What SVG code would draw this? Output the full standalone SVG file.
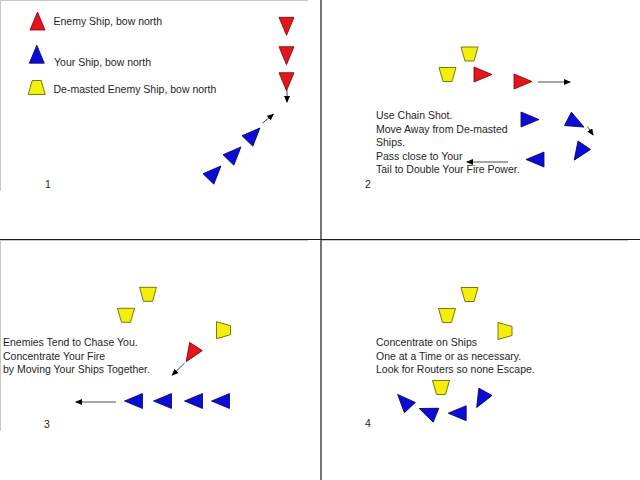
<svg xmlns="http://www.w3.org/2000/svg" xmlns:xlink="http://www.w3.org/1999/xlink" width="640" height="480" viewBox="0 0 640 480">
<style>
.t{font-family:"Liberation Sans",Arial,sans-serif;font-size:10.5px;fill:#1e1e1e}
.red{fill:#e3161e;stroke:#7a0000;stroke-width:0.8}
.blue{fill:#0c0cd4;stroke:#00006e;stroke-width:0.8}
.yel{fill:#f4ef0a;stroke:#6e6a00;stroke-width:0.9}
.arr{stroke:#4a4a4a;stroke-width:1;fill:none;marker-end:url(#ah)}
.frame{stroke:#1a1a1a;stroke-width:1.2}
.edge{stroke:#c8c8c8;stroke-width:1}
</style>
<defs>
<polygon id="ship" points="0,-12 7.5,6 -7.5,6"/>
<polygon id="hulk" points="-4.5,-7 4.5,-7 8.5,7 -8.5,7"/>
<marker id="ah" markerUnits="userSpaceOnUse" markerWidth="7" markerHeight="6" refX="6" refY="3" orient="auto">
<path d="M0,0 L7,3 L0,6 z" fill="#000"/>
</marker>
</defs>
<rect width="640" height="480" fill="#fff"/>
<g id="frames">
<line class="edge" x1="0.5" y1="0.5" x2="308" y2="0.5"/>
<line class="edge" x1="0.5" y1="0" x2="0.5" y2="191"/>
<line class="edge" x1="0.5" y1="240.5" x2="308" y2="240.5"/>
<line class="edge" x1="0.5" y1="240" x2="0.5" y2="431"/>
<line class="edge" x1="322" y1="240.5" x2="628" y2="240.5"/>
<line class="frame" x1="321" y1="0" x2="321" y2="480"/>
<line class="frame" x1="0" y1="239.5" x2="640" y2="239.5"/>
</g>
<g id="legend">
<g id="legend-enemy"><use xlink:href="#ship" class="red" transform="translate(37.5,24)"/><text class="t" x="53.5" y="25">Enemy Ship, bow north</text></g>
<g id="legend-your"><use xlink:href="#ship" class="blue" transform="translate(36.8,57.2)"/><text class="t" x="54" y="65.5">Your Ship, bow north</text></g>
<g id="legend-demasted"><use xlink:href="#hulk" class="yel" transform="translate(36.7,87.5)"/><text class="t" x="53.5" y="92.5">De-masted Enemy Ship, bow north</text></g>
</g>
<g id="panel1">
<g id="p1-e1"><use xlink:href="#ship" class="red" transform="translate(286.5,23.3) rotate(180)"/></g>
<g id="p1-e2"><use xlink:href="#ship" class="red" transform="translate(286.5,52.7) rotate(180)"/></g>
<g id="p1-e3"><use xlink:href="#ship" class="red" transform="translate(286.5,78.7) rotate(180)"/></g>
<g id="p1-y1"><use xlink:href="#ship" class="blue" transform="translate(212.6,174.6) rotate(44)"/></g>
<g id="p1-y2"><use xlink:href="#ship" class="blue" transform="translate(232.6,155.6) rotate(44)"/></g>
<g id="p1-y3"><use xlink:href="#ship" class="blue" transform="translate(251.6,136.6) rotate(44)"/></g>
<text class="t" x="45" y="188">1</text>
</g>
<g id="panel2">
<g id="p2-d1"><use xlink:href="#hulk" class="yel" transform="translate(469.5,54) rotate(180)"/></g>
<g id="p2-d2"><use xlink:href="#hulk" class="yel" transform="translate(447.5,74.5) rotate(180)"/></g>
<g id="p2-e1"><use xlink:href="#ship" class="red" transform="translate(480,74.5) rotate(90)"/></g>
<g id="p2-e2"><use xlink:href="#ship" class="red" transform="translate(520,81.5) rotate(90)"/></g>
<g id="p2-y1"><use xlink:href="#ship" class="blue" transform="translate(527,119.5) rotate(90)"/></g>
<g id="p2-y2"><use xlink:href="#ship" class="blue" transform="translate(573.3,121.6) rotate(117)"/></g>
<g id="p2-y3"><use xlink:href="#ship" class="blue" transform="translate(580.9,150.2) rotate(214)"/></g>
<g id="p2-y4"><use xlink:href="#ship" class="blue" transform="translate(538,159.5) rotate(-90)"/></g>
<text class="t" x="376" y="119">Use Chain Shot.</text>
<text class="t" x="376" y="132.6">Move Away from De-masted</text>
<text class="t" x="376" y="146.2">Ships.</text>
<text class="t" x="376" y="159.8">Pass close to Your</text>
<text class="t" x="376" y="173.4">Tail to Double Your Fire Power.</text>
<text class="t" x="365" y="187.5">2</text>
</g>
<g id="panel3">
<g id="p3-d1"><use xlink:href="#hulk" class="yel" transform="translate(148,294.3) rotate(180)"/></g>
<g id="p3-d2"><use xlink:href="#hulk" class="yel" transform="translate(126,315.3) rotate(180)"/></g>
<g id="p3-d3"><use xlink:href="#hulk" class="yel" transform="translate(223.5,330.2) rotate(90)"/></g>
<g id="p3-e1"><use xlink:href="#ship" class="red" transform="translate(192.7,351.6) rotate(213)"/></g>
<g id="p3-y1"><use xlink:href="#ship" class="blue" transform="translate(136.5,401) rotate(-90)"/></g>
<g id="p3-y2"><use xlink:href="#ship" class="blue" transform="translate(165.5,401) rotate(-90)"/></g>
<g id="p3-y3"><use xlink:href="#ship" class="blue" transform="translate(196.5,401) rotate(-90)"/></g>
<g id="p3-y4"><use xlink:href="#ship" class="blue" transform="translate(223.5,401) rotate(-90)"/></g>
<text class="t" x="3" y="346">Enemies Tend to Chase You.</text>
<text class="t" x="3" y="359.5">Concentrate Your Fire</text>
<text class="t" x="3" y="373">by Moving Your Ships Together.</text>
<text class="t" x="44" y="427.5">3</text>
</g>
<g id="panel4">
<g id="p4-d1"><use xlink:href="#hulk" class="yel" transform="translate(469.5,294.5) rotate(180)"/></g>
<g id="p4-d2"><use xlink:href="#hulk" class="yel" transform="translate(447,315.5) rotate(180)"/></g>
<g id="p4-d3"><use xlink:href="#hulk" class="yel" transform="translate(505,331) rotate(90)"/></g>
<g id="p4-d4"><use xlink:href="#hulk" class="yel" transform="translate(441,387.5) rotate(180)"/></g>
<g id="p4-y1"><use xlink:href="#ship" class="blue" transform="translate(405.8,403.2) rotate(-43)"/></g>
<g id="p4-y2"><use xlink:href="#ship" class="blue" transform="translate(430.4,413) rotate(-68)"/></g>
<g id="p4-y3"><use xlink:href="#ship" class="blue" transform="translate(460.2,413.2) rotate(-90)"/></g>
<g id="p4-y4"><use xlink:href="#ship" class="blue" transform="translate(482.5,397.1) rotate(209)"/></g>
<text class="t" x="376" y="346">Concentrate on Ships</text>
<text class="t" x="376" y="359.5">One at a Time or as necessary.</text>
<text class="t" x="376" y="373">Look for Routers so none Escape.</text>
<text class="t" x="365" y="427">4</text>
</g>
<g id="connectors">
<line class="arr" x1="287" y1="90" x2="287" y2="102"/>
<line class="arr" x1="262.3" y1="123.3" x2="273.3" y2="114.3"/>
<line class="arr" x1="538" y1="82" x2="570" y2="82"/>
<line class="arr" x1="587.5" y1="126.5" x2="593" y2="135"/>
<line class="arr" x1="508" y1="162" x2="467" y2="162"/>
<line class="arr" x1="184.3" y1="363.3" x2="172.3" y2="375"/>
<line class="arr" x1="116" y1="402" x2="76" y2="402"/>
</g>
</svg>
